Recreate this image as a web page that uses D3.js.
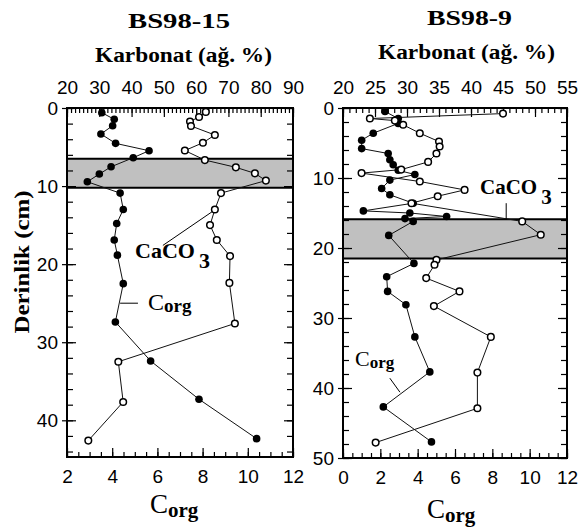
<!DOCTYPE html>
<html>
<head>
<meta charset="utf-8">
<script src="https://cdn.jsdelivr.net/npm/d3@7"></script>
<style>
  body { margin: 0; background: #fff; }
  svg { display: block; }
  .tick text { font-family: "Liberation Sans", Arial, sans-serif; font-size: 19px; fill: #000; }
  .serif { font-family: "Liberation Serif", "Times New Roman", serif; fill: #000; }
</style>
</head>
<body>
<div id="chart"></div>
<script>
// BS98-15 core
const depth15Corg = [0.6, 1.45, 2.27, 3.33, 4.53, 5.47, 6.37, 7.53, 8.46, 9.45, 10.9, 13.0, 14.8, 16.9, 18.85, 22.5, 27.4, 32.4, 37.3, 42.35];
const corg15 = [3.54, 4.09, 4.02, 3.50, 4.15, 5.63, 4.93, 3.95, 3.43, 2.90, 4.35, 4.49, 4.20, 4.09, 4.23, 4.49, 4.14, 5.70, 7.84, 10.39];
const depth15Carb = [0.5, 1.15, 1.73, 2.3, 3.46, 4.45, 5.45, 6.67, 7.6, 8.37, 9.3, 10.9, 13.0, 15.0, 16.9, 18.97, 22.4, 27.6, 32.5, 37.65, 42.6];
const carb15 = [63.0, 60.9, 58.1, 58.4, 65.8, 62.1, 56.5, 62.7, 72.3, 78.2, 81.6, 67.7, 65.8, 64.3, 66.4, 70.5, 70.3, 72.0, 35.9, 37.4, 26.6];
const band15 = [6.5, 10.2];

// BS98-9 core
const depth9Corg = [0.5, 1.5, 2.2, 3.6, 4.6, 5.8, 6.5, 7.4, 8.1, 8.9, 9.5, 10.3, 11.5, 12.4, 13.6, 14.7, 15.0, 15.5, 15.8, 16.2, 18.2, 22.2, 24.1, 26.2, 28.1, 32.7, 37.7, 42.7, 47.7];
const corg9 = [2.25, 2.96, 2.96, 1.62, 1.0, 1.0, 2.42, 2.51, 2.69, 2.96, 3.85, 2.51, 2.07, 2.51, 3.76, 1.09, 3.58, 5.55, 3.32, 3.76, 2.45, 3.80, 2.34, 2.39, 3.37, 3.85, 4.65, 2.16, 4.74];
const depth9Carb = [0.8, 1.5, 1.8, 2.4, 3.6, 4.8, 5.5, 6.5, 7.7, 8.8, 9.3, 10.5, 11.7, 12.6, 13.6, 16.2, 18.1, 21.7, 22.4, 24.3, 26.2, 28.3, 32.7, 37.8, 42.9, 47.8];
const carb9 = [45.0, 24.2, 28.1, 29.4, 32.0, 35.0, 35.1, 34.6, 33.3, 29.1, 22.9, 32.0, 39.0, 34.8, 30.7, 48.0, 50.9, 34.6, 34.3, 33.0, 38.2, 34.2, 43.1, 41.0, 41.0, 25.1];
const band9 = [15.9, 21.5];

// tick values
const carbTicks15 = d3.range(20, 91, 10);
const corgTicks15 = d3.range(2, 13, 2);
const depthTicks15 = d3.range(0, 41, 10);
const carbTicks9 = d3.range(20, 56, 5);
const corgTicks9 = d3.range(0, 13, 2);
const depthTicks9 = d3.range(0, 51, 10);

const width = 580, height = 531;

const svg = d3.select("#chart").append("svg")
    .attr("width", width)
    .attr("height", height);

function drawPanel(p) {
    const g = svg.append("g");
    const [x0, x1] = p.xCarb.range();
    const [y0, y1] = p.y.range();

    // shaded interval
    g.append("rect")
        .attr("x", x0).attr("y", p.y(p.band[0]))
        .attr("width", x1 - x0).attr("height", p.y(p.band[1]) - p.y(p.band[0]))
        .attr("fill", "#c0c0c0");
    p.band.forEach(d => {
        g.append("line")
            .attr("x1", x0).attr("x2", x1)
            .attr("y1", p.y(d)).attr("y2", p.y(d))
            .attr("stroke", "#000").attr("stroke-width", 2);
    });

    // minor ticks
    g.append("g").attr("transform", `translate(0,${y0})`)
        .call(d3.axisTop(p.xCarb).tickValues(p.carbMinor).tickSize(-5).tickFormat(""));
    g.append("g").attr("transform", `translate(0,${y1})`)
        .call(d3.axisBottom(p.xCorg).tickValues(p.corgMinor).tickSize(-5).tickFormat(""));
    g.append("g").attr("transform", `translate(${x0},0)`)
        .call(d3.axisLeft(p.y).tickValues(p.depthMinor).tickSize(-6).tickFormat(""));
    g.append("g").attr("transform", `translate(${x1},0)`)
        .call(d3.axisRight(p.y).tickValues(p.depthMinor).tickSize(-6).tickFormat(""));

    // major ticks and labels
    g.append("g").attr("transform", `translate(0,${y0})`)
        .call(d3.axisTop(p.xCarb).tickValues(p.carbTicks).tickSize(-9).tickPadding(14));
    g.append("g").attr("transform", `translate(0,${y1})`)
        .call(d3.axisBottom(p.xCorg).tickValues(p.corgTicks).tickSize(-9).tickPadding(13));
    g.append("g").attr("transform", `translate(${x0},0)`)
        .call(d3.axisLeft(p.y).tickValues(p.depthTicks).tickSize(5).tickPadding(4));
    g.append("g").attr("transform", `translate(${x0},0)`)
        .call(d3.axisLeft(p.y).tickValues(p.depthTicks).tickSize(-9).tickFormat(""));
    g.append("g").attr("transform", `translate(${x1},0)`)
        .call(d3.axisRight(p.y).tickValues(p.depthTicks).tickSize(-9).tickFormat(""));

    g.selectAll(".domain").remove();
    g.selectAll(".tick line").attr("stroke", "#000").attr("stroke-width", 1.2);

    // series
    const corgPts = p.corgDepth.map((d, i) => [p.xCorg(p.corg[i]), p.y(d)]);
    const carbPts = p.carbDepth.map((d, i) => [p.xCarb(p.carb[i]), p.y(d)]);
    const line = d3.line();

    g.append("path").attr("d", line(corgPts))
        .attr("fill", "none").attr("stroke", "#111").attr("stroke-width", 1);
    g.append("path").attr("d", line(carbPts))
        .attr("fill", "none").attr("stroke", "#111").attr("stroke-width", 1);

    g.selectAll(".corg").data(corgPts).enter().append("circle")
        .attr("cx", d => d[0]).attr("cy", d => d[1]).attr("r", 3.8)
        .attr("fill", "#000");
    g.selectAll(".carb").data(carbPts).enter().append("circle")
        .attr("cx", d => d[0]).attr("cy", d => d[1]).attr("r", 3.3)
        .attr("fill", "#fff").attr("stroke", "#000").attr("stroke-width", 1.5);

    // pointer lines for the labels
    g.append("line")
        .attr("x1", p.xCarb(p.carbPointer[0][0])).attr("y1", p.y(p.carbPointer[0][1]))
        .attr("x2", p.xCarb(p.carbPointer[1][0])).attr("y2", p.y(p.carbPointer[1][1]))
        .attr("stroke", "#000").attr("stroke-width", 1);
    g.append("line")
        .attr("x1", p.xCorg(p.corgPointer[0][0])).attr("y1", p.y(p.corgPointer[0][1]))
        .attr("x2", p.xCorg(p.corgPointer[1][0])).attr("y2", p.y(p.corgPointer[1][1]))
        .attr("stroke", "#000").attr("stroke-width", 1);

    // frame
    g.append("rect")
        .attr("x", x0).attr("y", y0)
        .attr("width", x1 - x0).attr("height", y1 - y0)
        .attr("fill", "none").attr("stroke", "#000").attr("stroke-width", 2);

    // titles
    g.append("text").attr("class", "serif")
        .attr("x", p.title.x).attr("y", p.title.y)
        .attr("font-size", 22).attr("font-weight", "bold")
        .attr("textLength", p.title.len).attr("lengthAdjust", "spacingAndGlyphs")
        .text(p.title.text);
    g.append("text").attr("class", "serif")
        .attr("x", p.karb.x).attr("y", p.karb.y)
        .attr("font-size", 20).attr("font-weight", "bold")
        .attr("textLength", 177).attr("lengthAdjust", "spacingAndGlyphs")
        .text("Karbonat (ağ. %)");

    // bottom axis title C org
    const bt = g.append("text").attr("class", "serif")
        .attr("x", p.corgTitle.x).attr("y", p.corgTitle.y);
    bt.append("tspan").attr("font-size", 27).text("C");
    bt.append("tspan").attr("font-size", 21).attr("font-weight", "bold")
        .attr("dy", 4).text("org");

    // in-plot labels
    const cl = g.append("text").attr("class", "serif")
        .attr("x", p.caco.x).attr("y", p.caco.y)
        .attr("font-size", p.caco.size).attr("font-weight", "bold");
    cl.append("tspan").text("CaCO");
    cl.append("tspan").attr("dx", 4).attr("dy", 10).text("3");

    const ol = g.append("text").attr("class", "serif")
        .attr("x", p.corgLbl.x).attr("y", p.corgLbl.y);
    ol.append("tspan").attr("font-size", p.corgLbl.size).text("C");
    ol.append("tspan").attr("font-size", p.corgLbl.size - 5).attr("font-weight", "bold")
        .attr("dy", 2).text("org");
}

drawPanel({
    xCarb: d3.scaleLinear().domain([20, 90]).range([67, 293]),
    xCorg: d3.scaleLinear().domain([2, 12]).range([67, 293]),
    y: d3.scaleLinear().domain([0, 44.7]).range([108, 457]),
    band: band15,
    carbTicks: carbTicks15, carbMinor: d3.range(20, 90.01, 1.25),
    corgTicks: corgTicks15, corgMinor: d3.range(2, 12.01, 0.5),
    depthTicks: depthTicks15, depthMinor: d3.range(0, 44.7, 2),
    corg: corg15, corgDepth: depth15Corg,
    carb: carb15, carbDepth: depth15Carb,
    carbPointer: [[49.7, 17.6], [64.9, 13.3]],
    corgPointer: [[4.35, 25.0], [5.14, 25.0]],
    title: { text: "BS98-15", x: 128, y: 28, len: 102 },
    karb: { x: 95, y: 62 },
    corgTitle: { x: 150, y: 513 },
    caco: { x: 135, y: 258, size: 22 },
    corgLbl: { x: 148, y: 310, size: 24 }
});

drawPanel({
    xCarb: d3.scaleLinear().domain([20, 55]).range([343, 567]),
    xCorg: d3.scaleLinear().domain([0, 12]).range([343, 567]),
    y: d3.scaleLinear().domain([0, 50]).range([108, 458]),
    band: band9,
    carbTicks: carbTicks9, carbMinor: d3.range(20, 55.01, 1),
    corgTicks: corgTicks9, corgMinor: d3.range(0, 12.01, 0.5),
    depthTicks: depthTicks9, depthMinor: d3.range(0, 50.01, 2),
    corg: corg9, corgDepth: depth9Corg,
    carb: carb9, carbDepth: depth9Carb,
    carbPointer: [[45.5, 13.6], [45.5, 16.0]],
    corgPointer: [[2.51, 38.6], [3.05, 40.6]],
    title: { text: "BS98-9", x: 427, y: 25, len: 85 },
    karb: { x: 378, y: 59 },
    corgTitle: { x: 427, y: 518 },
    caco: { x: 480, y: 194, size: 21 },
    corgLbl: { x: 355, y: 366, size: 22 }
});

// shared depth axis title
svg.append("text").attr("class", "serif")
    .attr("transform", "translate(29,262) rotate(-90)")
    .attr("text-anchor", "middle")
    .attr("font-size", 21).attr("font-weight", "bold")
    .attr("textLength", 143).attr("lengthAdjust", "spacingAndGlyphs")
    .text("Derinlik (cm)");
</script>
</body>
</html>
